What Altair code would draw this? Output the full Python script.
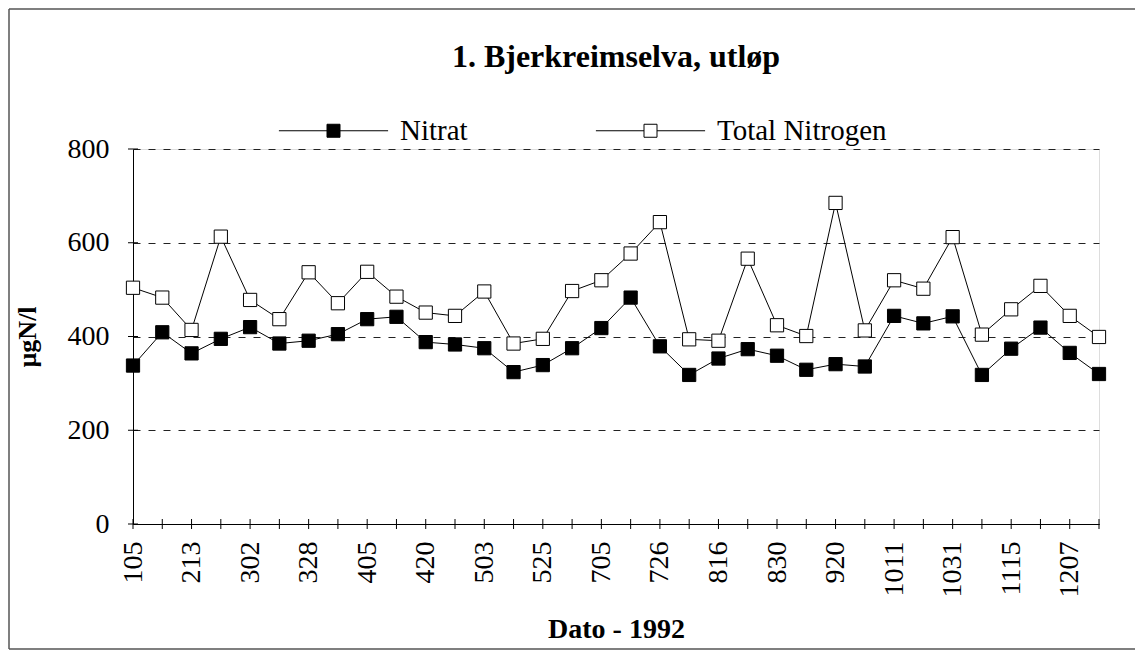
import json
import altair as alt
import pandas as pd

# ---- data ----
date_labels = ["105", "213", "302", "328", "405", "420", "503", "525", "705",
               "726", "816", "830", "920", "1011", "1031", "1115", "1207"]
nitrat = [338, 409, 364, 395, 420, 385, 391, 405, 437, 442, 388, 383, 375, 324,
          339, 375, 418, 483, 379, 318, 353, 373, 359, 329, 341, 336, 444, 428,
          443, 318, 374, 419, 365, 320]
total_n = [504, 483, 414, 613, 478, 437, 537, 471, 538, 485, 451, 444, 496, 385,
           395, 497, 520, 577, 644, 394, 391, 566, 424, 401, 685, 413, 520, 502,
           612, 404, 458, 508, 444, 399]
series_names = ["Nitrat", "Total Nitrogen"]
y_tick_values = [0, 200, 400, 600, 800]

FONT = "Liberation Serif"
W, H = 966, 375
PAD = {"left": 125, "top": 141, "right": 36, "bottom": 126}

n = len(nitrat)
rows = [{"i": k, "series": series_names[0], "v": nitrat[k]} for k in range(n)]
rows += [{"i": k, "series": series_names[1], "v": total_n[k]} for k in range(n)]
df = pd.DataFrame(rows)

xticks_df = pd.DataFrame({"i": list(range(n)), "v": [0] * n})
yticks_df = pd.DataFrame({"i": [0] * len(y_tick_values), "v": y_tick_values})

label_expr = json.dumps(date_labels) + "[floor(datum.value / 2)]"

X = alt.X(
    "i:Q",
    scale=alt.Scale(domain=[0, n - 1], nice=False, zero=False),
    axis=alt.Axis(
        values=list(range(0, n, 2)), labelExpr=label_expr, labelAngle=270,
        labelFont=FONT, labelFontSize=28, labelColor="black", labelPadding=17,
        ticks=False, grid=False, domainColor="black", domainWidth=1,
        title="Dato - 1992", titleFont=FONT, titleFontSize=28,
        titleFontWeight="bold", titleColor="black", titlePadding=18,
    ),
)
Y = alt.Y(
    "v:Q",
    scale=alt.Scale(domain=[0, 800], nice=False),
    axis=alt.Axis(
        values=y_tick_values, labelFont=FONT, labelFontSize=28,
        labelColor="black", labelPadding=24, ticks=False,
        domainColor="black", domainWidth=1,
        grid=True, gridColor="#222222", gridDash=[7, 8], gridWidth=1,
        title="µgN/l", titleFont=FONT, titleFontSize=26, titleFontWeight="bold",
        titleColor="black", titlePadding=27,
    ),
)

legend_symbol = "M-4.2,0H-0.5M0.5,0H4.2M-0.5,-0.5H0.5V0.5H-0.5Z"

base = alt.Chart(df)
lines = base.mark_line(color="black", strokeWidth=1).encode(
    x=X, y=Y, detail="series:N"
)
points = base.mark_square(size=175, stroke="black", strokeWidth=1,
                          opacity=1, fillOpacity=1).encode(
    x=X, y=Y,
    fill=alt.Fill(
        "series:N",
        scale=alt.Scale(domain=series_names, range=["black", "white"]),
        legend=alt.Legend(
            orient="none", legendX=186, legendY=-33, direction="horizontal",
            columns=2, title=None, padding=0,
            symbolType=legend_symbol, symbolSize=676,
            symbolStrokeColor="black", symbolStrokeWidth=1,
            labelFont=FONT, labelFontSize=29, labelColor="black",
            labelOffset=52, columnPadding=125, labelLimit=400,
        ),
    ),
)

xticks = alt.Chart(xticks_df).mark_tick(
    orient="vertical", size=10, thickness=1, color="black", opacity=1
).encode(x=X, y=Y)
yticks = alt.Chart(yticks_df).mark_tick(
    orient="horizontal", size=10, thickness=1, color="black", opacity=1
).encode(x=X, y=Y)

# decorative frame around the whole figure (left, top, bottom edges)
one = pd.DataFrame({"a": [0]})
frame_col = "#555555"
frame_top = alt.Chart(one).mark_rule(color=frame_col, strokeWidth=1.5).encode(
    x=alt.value(-PAD["left"] + 1), x2=alt.value(W + PAD["right"]),
    y=alt.value(-PAD["top"] + 1))
frame_left = alt.Chart(one).mark_rule(color=frame_col, strokeWidth=1.5).encode(
    x=alt.value(-PAD["left"] + 1),
    y=alt.value(-PAD["top"] + 1), y2=alt.value(H + PAD["bottom"] - 1))
frame_bottom = alt.Chart(one).mark_rule(color=frame_col, strokeWidth=1.5).encode(
    x=alt.value(-PAD["left"] + 1), x2=alt.value(W + PAD["right"]),
    y=alt.value(H + PAD["bottom"] - 1))

chart = alt.layer(
    lines, points, xticks, yticks, frame_top, frame_left, frame_bottom
).properties(
    width=W, height=H,
    title=alt.TitleParams(
        "1. Bjerkreimselva, utløp", font=FONT, fontSize=32, fontWeight="bold",
        color="black", anchor="middle", offset=-66,
    ),
    autosize=alt.AutoSizeParams(type="none"),
    padding=PAD,
).configure_view(stroke=None).configure(background="white")

chart.save("out.html", embed_options={"renderer": "svg", "actions": False})
